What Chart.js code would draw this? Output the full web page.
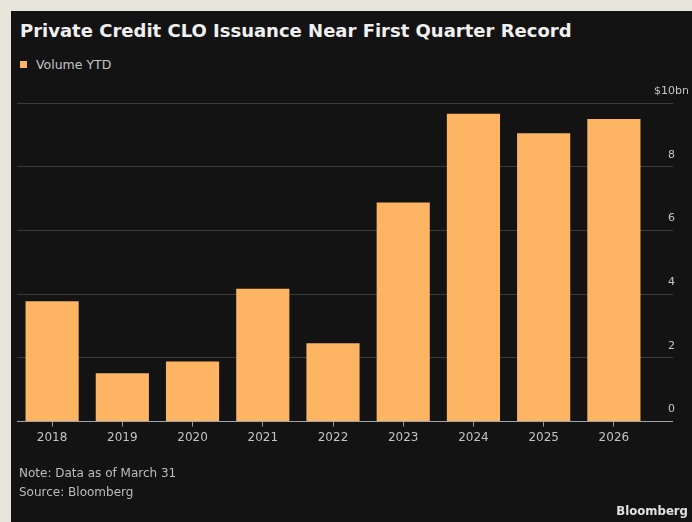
<!DOCTYPE html>
<html>
<head>
<meta charset="utf-8">
<script src="https://cdn.jsdelivr.net/npm/chart.js@4"></script>
<style>
    html, body { margin: 0; padding: 0; }
    body { width: 692px; height: 522px; background: #e8e5da; position: relative; overflow: hidden; }
    #panel { position: absolute; left: 11px; top: 11px; width: 681px; height: 511px; background: #131313;
             font-family: "DejaVu Sans", sans-serif; }
    #panel canvas { position: absolute; left: 0; top: 0; }
    #title { position: absolute; left: 9px; top: 11px; margin: 0; font-size: 18px; line-height: 18px;
             font-weight: bold; color: #f0f0f0; white-space: nowrap; }
    #legend { position: absolute; left: 9px; top: 48px; font-size: 12.5px; line-height: 12px; color: #c4c4c4; }
    #legend .swatch { display: inline-block; width: 7px; height: 7px; margin-right: 9px; vertical-align: 1px; }
    #notes { position: absolute; left: 8px; top: 453px; font-size: 12px; line-height: 19px; color: #bcbcbc; }
    #brand { position: absolute; right: 4px; top: 493px; font-size: 13px; line-height: 13px;
             font-family: "DejaVu Sans Condensed", "DejaVu Sans", sans-serif; font-weight: bold; color: #e2e2e2; }
</style>
</head>
<body>
<div id="panel">
    <h1 id="title">Private Credit CLO Issuance Near First Quarter Record</h1>
    <div id="legend"><span class="swatch"></span><span id="legend-label"></span></div>
    <canvas id="chart" width="681" height="511"></canvas>
    <div id="notes">Note: Data as of March 31<br>Source: Bloomberg</div>
    <div id="brand">Bloomberg</div>
</div>
<script>
const COLOR_BAR = '#fdb463';
const COLOR_GRID = '#3c3c3c';
const COLOR_ZERO = '#9ea4aa';
const COLOR_TEXT = '#c4c4c4';
const FONT = '"DejaVu Sans", sans-serif';

const SERIES_LABEL = 'Volume YTD';
const YEARS = ['2018', '2019', '2020', '2021', '2022', '2023', '2024', '2025', '2026'];
const VOLUME = [3.78, 1.52, 1.89, 4.17, 2.46, 6.88, 9.66, 9.05, 9.50]; // $bn, Q1
const Y_TICKS = [0, 2, 4, 6, 8, 10];
const Y_TOP_LABEL = '$10bn';

document.querySelector('#legend .swatch').style.background = COLOR_BAR;
document.getElementById('legend-label').textContent = SERIES_LABEL;

new Chart(document.getElementById('chart'), {
    type: 'bar',
    data: {
        labels: YEARS,
        datasets: [{
            label: SERIES_LABEL,
            data: VOLUME,
            backgroundColor: COLOR_BAR,
            borderWidth: 0,
            barPercentage: 0.757,
            categoryPercentage: 1,
        }],
    },
    options: {
        responsive: false,
        animation: false,
        events: [],
        layout: { padding: { left: 6, top: 92, right: 0, bottom: 73 } },
        plugins: { legend: { display: false }, tooltip: { enabled: false } },
        scales: {
            x: {
                border: { display: false },
                grid: { drawOnChartArea: false, offset: false, tickLength: 5, color: '#9a9a9a' },
                ticks: { color: COLOR_TEXT, font: { family: FONT, size: 12 }, padding: 4, maxRotation: 0, autoSkip: false },
            },
            y: {
                position: 'right',
                min: Y_TICKS[0],
                max: Y_TICKS[Y_TICKS.length - 1],
                border: { display: false },
                // линии сетки продолжаются под подписями справа
                grid: {
                    tickLength: 24,
                    color: (ctx) => (ctx.tick && ctx.tick.value === 0 ? COLOR_ZERO : COLOR_GRID),
                },
                afterBuildTicks: (scale) => { scale.ticks = Y_TICKS.map((value) => ({ value })); },
                // ширина оси фиксирована, подписи стоят над концами линий
                afterFit: (scale) => { scale.width = 43; },
                ticks: {
                    color: COLOR_TEXT,
                    font: { family: FONT, size: 11 },
                    crossAlign: 'center',
                    padding: -19,
                    labelOffset: -12,
                    callback: (v) => (v === Y_TICKS[Y_TICKS.length - 1] ? Y_TOP_LABEL : v),
                },
            },
        },
    },
});
</script>
</body>
</html>
